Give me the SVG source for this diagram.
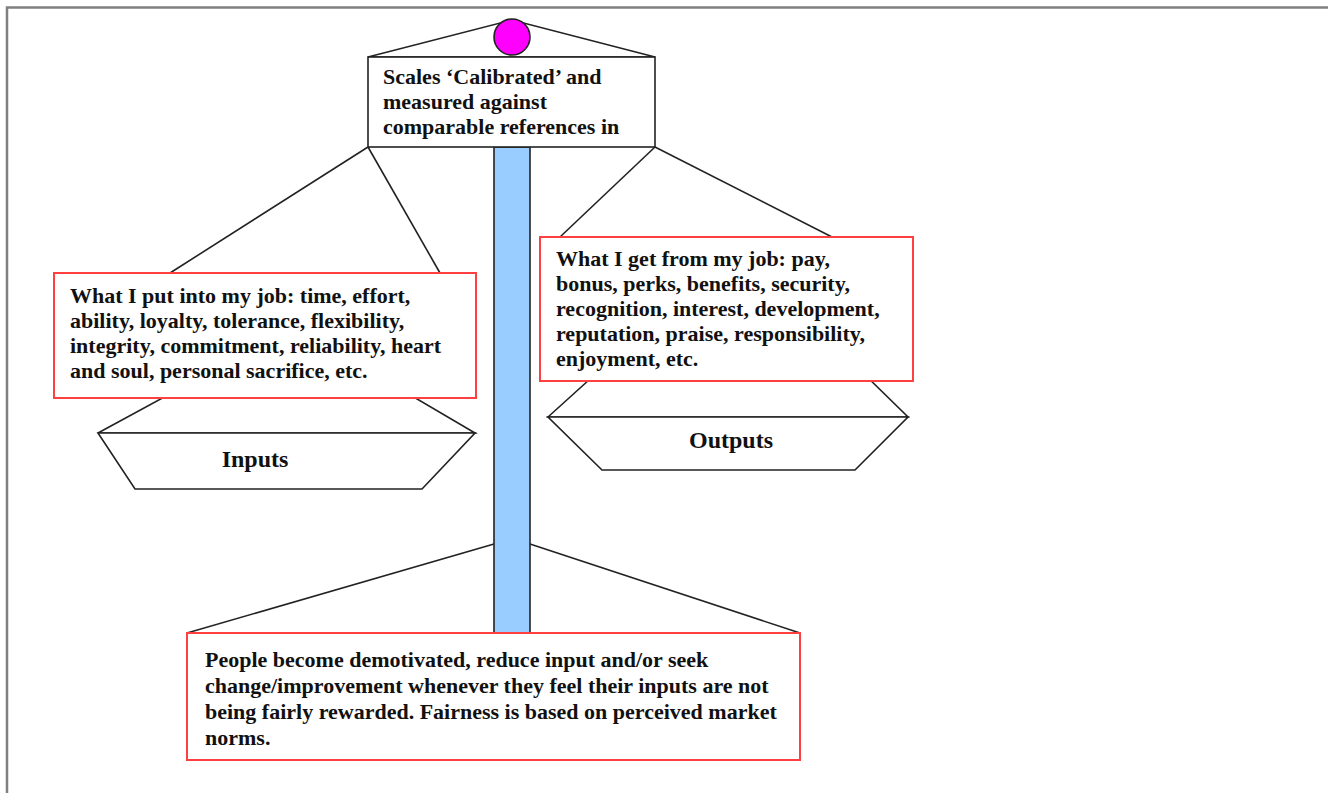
<svg xmlns="http://www.w3.org/2000/svg" width="1328" height="793" viewBox="0 0 1328 793">
<style>
.ln{stroke:#222;stroke-width:1.6;fill:none}
.pan{stroke:#222;stroke-width:1.6;fill:#fff}
.box{fill:#fff;stroke:#ff4040;stroke-width:2}
.blk{fill:#fff;stroke:#222;stroke-width:1.6}
.t{font-family:"Liberation Serif","Times New Roman",serif;font-weight:bold;font-size:22px;fill:#111}
.lbl{font-family:"Liberation Serif","Times New Roman",serif;font-weight:bold;font-size:24px;fill:#111}
</style>
<rect width="1328" height="793" fill="#fff"/>
<path d="M7,793 V7.5 H1328" stroke="#808080" stroke-width="2.5" fill="none"/>
<g id="connectors">
<line class="ln" x1="368" y1="147" x2="170" y2="273"/>
<line class="ln" x1="368" y1="147" x2="440" y2="273"/>
<line class="ln" x1="655" y1="147" x2="560" y2="237"/>
<line class="ln" x1="655" y1="147" x2="832" y2="237"/>
<line class="ln" x1="494" y1="544" x2="187" y2="633"/>
<line class="ln" x1="530" y1="544" x2="800" y2="633"/>
</g>
<g id="pillar">
<rect x="494" y="147" width="36" height="486" fill="#99ccff" stroke="#222" stroke-width="1.6"/>
</g>
<g id="top">
<polygon class="blk" points="368,57 512,20 655,57"/>
<rect class="blk" x="368" y="57" width="287" height="90"/>
<circle cx="512" cy="37" r="18" fill="#ff00ff" stroke="#222" stroke-width="1.6"/>
<text class="t" x="383" y="84">Scales ‘Calibrated’ and</text>
<text class="t" x="383" y="109">measured against</text>
<text class="t" x="383" y="134">comparable references in</text>
</g>
<g id="inputs-pan">
<polygon class="pan" points="98,433 190,383 390,383 475,433"/>
<polygon class="pan" points="98,433 475,433 422,489 135,489"/>
<text class="lbl" x="255" y="467" text-anchor="middle">Inputs</text>
</g>
<g id="inputs-box">
<rect class="box" x="54" y="273" width="422" height="125"/>
<text class="t" x="70" y="303">What I put into my job: time, effort,</text>
<text class="t" x="70" y="328">ability, loyalty, tolerance, flexibility,</text>
<text class="t" x="70" y="353">integrity, commitment, reliability, heart</text>
<text class="t" x="70" y="378">and soul, personal sacrifice, etc.</text>
</g>
<g id="outputs-pan">
<polygon class="pan" points="548,417 600,370 860,370 908,417"/>
<polygon class="pan" points="548,417 908,417 855,470 602,470"/>
<text class="lbl" x="731" y="448" text-anchor="middle">Outputs</text>
</g>
<g id="outputs-box">
<rect class="box" x="540" y="237" width="373" height="144"/>
<text class="t" x="556" y="266">What I get from my job: pay,</text>
<text class="t" x="556" y="291">bonus, perks, benefits, security,</text>
<text class="t" x="556" y="316">recognition, interest, development,</text>
<text class="t" x="556" y="341">reputation, praise, responsibility,</text>
<text class="t" x="556" y="366">enjoyment, etc.</text>
</g>
<g id="conclusion">
<rect class="box" x="187" y="633" width="613" height="127"/>
<text class="t" x="205" y="667">People become demotivated, reduce input and/or seek</text>
<text class="t" x="205" y="693">change/improvement whenever they feel their inputs are not</text>
<text class="t" x="205" y="719">being fairly rewarded. Fairness is based on perceived market</text>
<text class="t" x="205" y="745">norms.</text>
</g>
</svg>
